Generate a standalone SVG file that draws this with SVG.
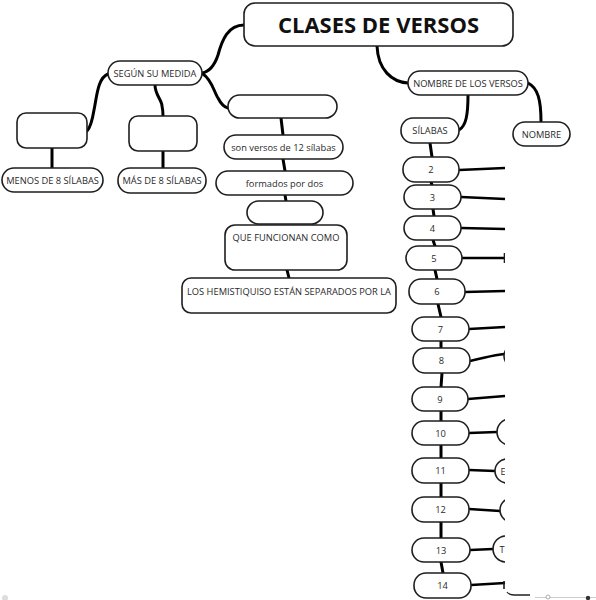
<svg xmlns="http://www.w3.org/2000/svg" width="596" height="600" viewBox="0 0 596 600">
<style>
.box{fill:#fff;stroke:#1e1e1e;stroke-width:1.6}
.t{font-family:"Open Sans","Liberation Sans",sans-serif;font-size:9.3px;fill:#2a2a2a;text-anchor:middle}
.title{font-family:"Open Sans","Liberation Sans",sans-serif;font-size:22px;font-weight:bold;fill:#111;text-anchor:middle}
.c{fill:none;stroke:#000;stroke-width:3;stroke-linecap:round}
.c2{fill:none;stroke:#000;stroke-width:2.6;stroke-linecap:butt}
</style>
<defs>
<clipPath id="clipR"><rect x="0" y="0" width="505" height="600"/></clipPath>
</defs>
<rect width="596" height="600" fill="#fff"/>
<g id="connectors">
<path class="c" d="M244,25 C228,25 222,40 218,55 C214,67 208,72 202,73"/>
<path class="c" d="M377,46 C378,70 392,82 408,83"/>
<path class="c" d="M468,95 C468,115 466,126 459,130"/>
<path class="c" d="M528,83 C538,88 541,100 541,122"/>
<path class="c" d="M108,74 C98,78 97,95 94,110 C92,122 90,128 87,131"/>
<path class="c" d="M155,85 C155,95 162,100 162,106 C163,110 163,113 163,116"/>
<path class="c" d="M203,74 C212,80 214,92 218,98 C221,104 224,107 228,108"/>
<path class="c" d="M52,148 L52,168"/>
<path class="c" d="M163,152 L163,168"/>
<path class="c" d="M281,118 L283,135"/>
<path class="c" d="M283,159 L285,171"/>
<path class="c" d="M285,195 L286,201"/>
<path class="c" d="M287,270 L289,278"/>
<path class="c" d="M430,143 L432,157"/>
<path class="c" d="M431,182 L432,185"/>
<path class="c" d="M433,209 L434,216"/>
<path class="c" d="M433,240 L435,246"/>
<path class="c" d="M435,270 L437,279"/>
<path class="c" d="M438,304 L441,317"/>
<path class="c" d="M441,341 L441,348"/>
<path class="c" d="M442,373 L441,387"/>
<path class="c" d="M441,411 L441,421"/>
<path class="c" d="M441,445 L441,458"/>
<path class="c" d="M441,483 L441,497"/>
<path class="c" d="M441,522 L441,538"/>
<path class="c" d="M441,562 L443,573"/>
<path class="c2" d="M459,170 L505,168"/>
<path class="c2" d="M461,197 L505,199"/>
<path class="c2" d="M461,228 L505,229"/>
<path class="c2" d="M462,258 L505,258"/>
<path class="c2" d="M465,292 L505,291"/>
<path class="c2" d="M469,329 L505,327"/>
<path class="c2" d="M470,361 C485,358 492,355 505,354"/>
<path class="c2" d="M468,399 L505,396"/>
<path class="c2" d="M469,433 L497,432"/>
<path class="c2" d="M469,470 L495,471"/>
<path class="c2" d="M469,509 L500,511"/>
<path class="c2" d="M470,550 L493,549"/>
<path class="c2" d="M471,585 L505,583"/>
</g>
<g id="title"><rect class="box" x="244" y="3" width="269" height="43" rx="11"/><text class="title" x="378.5" y="33">CLASES DE VERSOS</text></g>
<g id="segun"><rect class="box" x="108" y="61" width="94" height="24" rx="12"/><text class="t" x="155" y="76.5">SEGÚN SU MEDIDA</text></g>
<g id="empty1"><rect class="box" x="17" y="113" width="70" height="35" rx="9"/></g>
<g id="menos"><rect class="box" x="2" y="168" width="101" height="24" rx="12"/><text class="t" x="52.5" y="183.5">MENOS DE 8 SÍLABAS</text></g>
<g id="empty2"><rect class="box" x="129" y="116" width="68" height="35" rx="9"/></g>
<g id="mas"><rect class="box" x="118" y="168" width="88" height="25" rx="12"/><text class="t" x="162" y="184">MÁS DE 8 SÍLABAS</text></g>
<g id="empty3"><rect class="box" x="228" y="95" width="109" height="23" rx="11.5"/></g>
<g id="son"><rect class="box" x="224" y="135" width="119" height="24" rx="12"/><text class="t" x="283.5" y="150.5">son versos de 12 sílabas</text></g>
<g id="formados"><rect class="box" x="216" y="171" width="137" height="24" rx="12"/><text class="t" x="284.5" y="186.5">formados por dos</text></g>
<g id="empty4"><rect class="box" x="247" y="201" width="76" height="23" rx="11.5"/></g>
<g id="que"><rect class="box" x="225" y="225" width="122" height="45" rx="10"/><text class="t" x="286" y="241">QUE FUNCIONAN COMO</text></g>
<g id="los"><rect class="box" x="182" y="278" width="214" height="35" rx="9"/><text class="t" x="289" y="294.5">LOS HEMISTIQUISO ESTÁN SEPARADOS POR LA</text></g>
<g id="nombreversos"><rect class="box" x="408" y="71" width="120" height="24" rx="12"/><text class="t" x="468" y="86.5">NOMBRE DE LOS VERSOS</text></g>
<g id="silabas"><rect class="box" x="401" y="118" width="58" height="25" rx="12"/><text class="t" x="430" y="134">SÍLABAS</text></g>
<g id="nombre"><rect class="box" x="513" y="122" width="57" height="24" rx="12"/><text class="t" x="541.5" y="137.5">NOMBRE</text></g>
<g id="n2"><rect class="box" x="403" y="157" width="56" height="25" rx="12"/><text class="t" x="431" y="173">2</text></g>
<g id="n3"><rect class="box" x="404" y="185" width="57" height="24" rx="12"/><text class="t" x="432.5" y="200.5">3</text></g>
<g id="n4"><rect class="box" x="404" y="216" width="57" height="24" rx="12"/><text class="t" x="432.5" y="231.5">4</text></g>
<g id="n5"><rect class="box" x="406" y="246" width="56" height="24" rx="12"/><text class="t" x="434" y="261.5">5</text></g>
<g id="n6"><rect class="box" x="409" y="279" width="56" height="25" rx="12"/><text class="t" x="437" y="295">6</text></g>
<g id="n7"><rect class="box" x="412" y="317" width="57" height="24" rx="12"/><text class="t" x="440.5" y="332.5">7</text></g>
<g id="n8"><rect class="box" x="413" y="348" width="57" height="25" rx="12"/><text class="t" x="441.5" y="364">8</text></g>
<g id="n9"><rect class="box" x="412" y="387" width="56" height="24" rx="12"/><text class="t" x="440" y="402.5">9</text></g>
<g id="n10"><rect class="box" x="412" y="421" width="57" height="24" rx="12"/><text class="t" x="440.5" y="436.5">10</text></g>
<g id="n11"><rect class="box" x="412" y="458" width="57" height="25" rx="12"/><text class="t" x="440.5" y="474">11</text></g>
<g id="n12"><rect class="box" x="412" y="497" width="57" height="25" rx="12"/><text class="t" x="440.5" y="513">12</text></g>
<g id="n13"><rect class="box" x="412" y="538" width="58" height="24" rx="12"/><text class="t" x="441" y="553.5">13</text></g>
<g id="n14"><rect class="box" x="414" y="573" width="57" height="25" rx="12"/><text class="t" x="442.5" y="589">14</text></g>
<g id="partial" clip-path="url(#clipR)">
<line x1="504.5" y1="253" x2="504.5" y2="263" stroke="#1e1e1e" stroke-width="1.6"/>
<circle class="box" cx="516" cy="356" r="12"/>
<circle class="box" cx="510" cy="432" r="13"/>
<circle class="box" cx="507" cy="471" r="12"/>
<text class="t" x="500.5" y="474.5" style="text-anchor:start">E</text>
<circle class="box" cx="512" cy="510" r="12"/>
<circle class="box" cx="506" cy="549" r="13"/>
<text class="t" x="499.5" y="552.5" style="text-anchor:start">T</text>
<line x1="504" y1="581" x2="504" y2="589" stroke="#1e1e1e" stroke-width="1.6"/>
</g>
<path d="M507,592 Q509,595 514,595 L530,595" fill="none" stroke="#222" stroke-width="1.3"/>
<line x1="535" y1="597.5" x2="596" y2="597.5" stroke="#ccc" stroke-width="1"/>
<circle cx="548" cy="597" r="2" fill="#fff" stroke="#999" stroke-width="0.8"/>
<circle cx="588" cy="598" r="2.2" fill="#333"/>
<circle cx="5" cy="598" r="3" fill="#ddd"/>
</svg>
